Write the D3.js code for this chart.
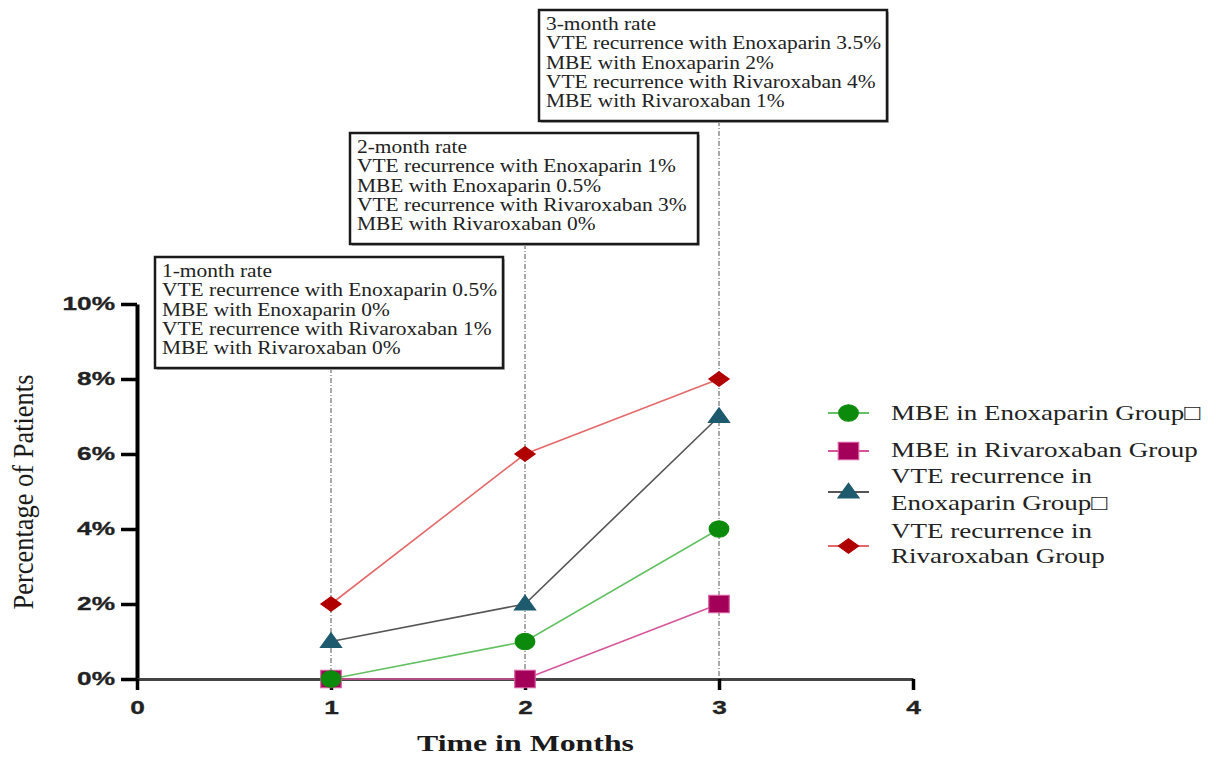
<!DOCTYPE html>
<html>
<head>
<meta charset="utf-8">
<script src="https://cdn.jsdelivr.net/npm/d3@7"></script>
<style>
  html, body { margin: 0; padding: 0; background: #ffffff; }
  svg { display: block; }
</style>
</head>
<body>
<svg id="chart" width="1217" height="757"></svg>
<script>
// ---------------- data ----------------
const months = [1, 2, 3];
const mbeEnoxaparin = [0, 1, 4];
const mbeRivaroxaban = [0, 0, 2];
const vteEnoxaparin = [1, 2, 7];
const vteRivaroxaban = [2, 6, 8];

const xTicks = [0, 1, 2, 3, 4];
const yTicks = [0, 2, 4, 6, 8, 10];

const seriesNames = [
  ["MBE in Enoxaparin Group\u25A1"],
  ["MBE in Rivaroxaban Group"],
  ["VTE recurrence in", "Enoxaparin Group\u25A1"],
  ["VTE recurrence in", "Rivaroxaban Group"]
];

const annoTitles = ["1-month rate", "2-month rate", "3-month rate"];
const annoLines = [
  ["VTE recurrence with Enoxaparin 0.5%", "MBE with Enoxaparin 0%", "VTE recurrence with Rivaroxaban 1%", "MBE with Rivaroxaban 0%"],
  ["VTE recurrence with Enoxaparin 1%", "MBE with Enoxaparin 0.5%", "VTE recurrence with Rivaroxaban 3%", "MBE with Rivaroxaban 0%"],
  ["VTE recurrence with Enoxaparin 3.5%", "MBE with Enoxaparin 2%", "VTE recurrence with Rivaroxaban 4%", "MBE with Rivaroxaban 1%"]
];

const xLabel = "Time in Months";
const yLabel = "Percentage of Patients";

// ---------------- styles ----------------
const SERIF = "'Liberation Serif','Times New Roman',serif";
const SANS = "'Liberation Sans',Arial,sans-serif";

const styles = [
  { line: "#63c163", fill: "#0c8a0c", stroke: "#0c8a0c", symbol: "circle" },
  { line: "#d6549a", fill: "#a3005a", stroke: "#d85aa0", symbol: "square" },
  { line: "#555555", fill: "#1d5a6d", stroke: "#1d5a6d", symbol: "triangle" },
  { line: "#e46a6a", fill: "#b00000", stroke: "#b00000", symbol: "diamond" }
];
const seriesData = [mbeEnoxaparin, mbeRivaroxaban, vteEnoxaparin, vteRivaroxaban];

const svg = d3.select("#chart");

const x = d3.scaleLinear().domain([0, 4]).range([137, 913]);
const y = d3.scaleLinear().domain([0, 10]).range([679, 304]);

function stretch(sel, sx) {
  sel.each(function () {
    const t = d3.select(this);
    const tx = +(t.attr("x") || 0);
    t.attr("x", 0).attr("transform", `translate(${tx},0) scale(${sx},1)`);
  });
}

function markerPath(kind) {
  if (kind === "circle") return { d: d3.symbol(d3.symbolCircle, 210)(), t: "scale(1.2,1)" };
  if (kind === "square") return { d: d3.symbol(d3.symbolSquare, 300)(), t: "scale(1.18,1)" };
  if (kind === "triangle") return { d: d3.symbol(d3.symbolTriangle, 125)(), t: "translate(0,1) scale(1.25,1)" };
  return { d: d3.symbol(d3.symbolSquare, 105)(), t: "scale(1.4,1) rotate(45)" };
}

// ---------------- dashed guide lines ----------------
const boxTops = [257, 133, 10];
const boxH = 111;
const boxW = 348;
const boxOffset = [-176, -175, -180];

svg.append("g").selectAll("line").data(months).join("line")
  .attr("x1", d => x(d)).attr("x2", d => x(d))
  .attr("y1", (d, i) => boxTops[i] + boxH)
  .attr("y2", y(0))
  .attr("stroke", "#555").attr("stroke-width", 1)
  .attr("stroke-dasharray", "5,2,1,2");

// ---------------- axes ----------------
const yAxis = svg.append("g").attr("transform", `translate(${x(0)},0)`)
  .call(d3.axisLeft(y).tickValues(yTicks).tickFormat(d => d + "%").tickSize(16).tickSizeOuter(0).tickPadding(6));
yAxis.select(".domain").attr("stroke", "#000").attr("stroke-width", 4);
yAxis.selectAll(".tick line").attr("stroke", "#000").attr("stroke-width", 3.5);
yAxis.selectAll(".tick text").attr("font-family", SANS).attr("font-weight", "bold")
  .attr("font-size", 18.5).attr("fill", "#222").attr("stroke", "#222").attr("stroke-width", 0.3)
  .call(stretch, 1.42);

const xAxis = svg.append("g").attr("transform", `translate(0,${y(0)})`)
  .call(d3.axisBottom(x).tickValues(xTicks).tickFormat(d3.format("d")).tickSize(11).tickSizeOuter(0).tickPadding(11));
xAxis.select(".domain").attr("stroke", "#444").attr("stroke-width", 3);
xAxis.selectAll(".tick line").attr("stroke", "#000").attr("stroke-width", 3.5);
xAxis.selectAll(".tick text").attr("font-family", SANS).attr("font-weight", "bold")
  .attr("font-size", 18.5).attr("fill", "#222").attr("stroke", "#222").attr("stroke-width", 0.3)
  .call(stretch, 1.42);

// axis titles
const xt = svg.append("text").text(xLabel)
  .attr("font-family", SERIF).attr("font-weight", "bold").attr("font-size", 24)
  .attr("fill", "#1a1a1a").attr("text-anchor", "middle");
{
  const len = xt.node().getComputedTextLength();
  xt.attr("transform", `translate(${(x(1.45) + x(2.55)) / 2 + 0.5},751) scale(${217 / len},1)`);
}

const yt = svg.append("text").text(yLabel)
  .attr("font-family", SERIF).attr("font-size", 25)
  .attr("fill", "#1a1a1a").attr("text-anchor", "middle");
{
  const len = yt.node().getComputedTextLength();
  yt.attr("transform", `translate(33,492) rotate(-90) scale(${235 / len},1.2)`);
}

// ---------------- lines + markers ----------------
const lineGen = d3.line().x(d => x(d[0])).y(d => y(d[1]));
const order = [3, 2, 1, 0];
order.forEach(i => {
  svg.append("path")
    .datum(months.map((m, j) => [m, seriesData[i][j]]))
    .attr("d", lineGen).attr("fill", "none")
    .attr("stroke", styles[i].line).attr("stroke-width", 1.6);
});
order.forEach(i => {
  const mk = markerPath(styles[i].symbol);
  svg.append("g").selectAll("path").data(months.map((m, j) => [m, seriesData[i][j]])).join("path")
    .attr("d", mk.d)
    .attr("transform", d => `translate(${x(d[0])},${y(d[1])}) ${mk.t}`)
    .attr("fill", styles[i].fill).attr("stroke", styles[i].stroke).attr("stroke-width", 1);
});

// ---------------- annotation boxes ----------------
let annoScale = 1;
{
  const probe = svg.append("text").text(annoLines[0][0]).attr("font-family", SERIF).attr("font-size", 19);
  annoScale = 335 / probe.node().getComputedTextLength();
  probe.remove();
}
months.forEach((m, i) => {
  const left = x(m) + boxOffset[i];
  const top = boxTops[i];
  const g = svg.append("g");
  g.append("rect").attr("x", left + 2).attr("y", top + 2).attr("width", boxW).attr("height", boxH)
    .attr("fill", "#bbb");
  g.append("rect").attr("x", left).attr("y", top).attr("width", boxW).attr("height", boxH)
    .attr("fill", "#fff").attr("stroke", "#1a1a1a").attr("stroke-width", 2.5);
  const lines = [annoTitles[i]].concat(annoLines[i]);
  g.selectAll("text").data(lines).join("text")
    .text(d => d)
    .attr("font-family", SERIF).attr("font-size", 19).attr("fill", "#222")
    .attr("transform", (d, k) => `translate(${left + 7},${top + 20 + k * 19.3}) scale(${annoScale},1)`);
});

// ---------------- legend ----------------
const legMarkerY = [413, 451, 492, 546];
const legTextY = [[420], [457], [483, 510], [538, 563]];
let legScale = 1;
{
  const probe = svg.append("text").text(seriesNames[1][0]).attr("font-family", SERIF).attr("font-size", 22);
  legScale = 307 / probe.node().getComputedTextLength();
  probe.remove();
}
seriesNames.forEach((names, i) => {
  const g = svg.append("g");
  g.append("line").attr("x1", 828).attr("x2", 869)
    .attr("y1", legMarkerY[i]).attr("y2", legMarkerY[i])
    .attr("stroke", styles[i].line).attr("stroke-width", 2.2);
  const mk = markerPath(styles[i].symbol);
  g.append("path").attr("d", mk.d)
    .attr("transform", `translate(848.5,${legMarkerY[i]}) ${mk.t}`)
    .attr("fill", styles[i].fill).attr("stroke", styles[i].stroke).attr("stroke-width", 1);
  g.selectAll("text").data(names).join("text")
    .text(d => d)
    .attr("font-family", SERIF).attr("font-size", 22).attr("fill", "#222")
    .attr("transform", (d, k) => `translate(891,${legTextY[i][k]}) scale(${legScale},1)`);
});
</script>
</body>
</html>
